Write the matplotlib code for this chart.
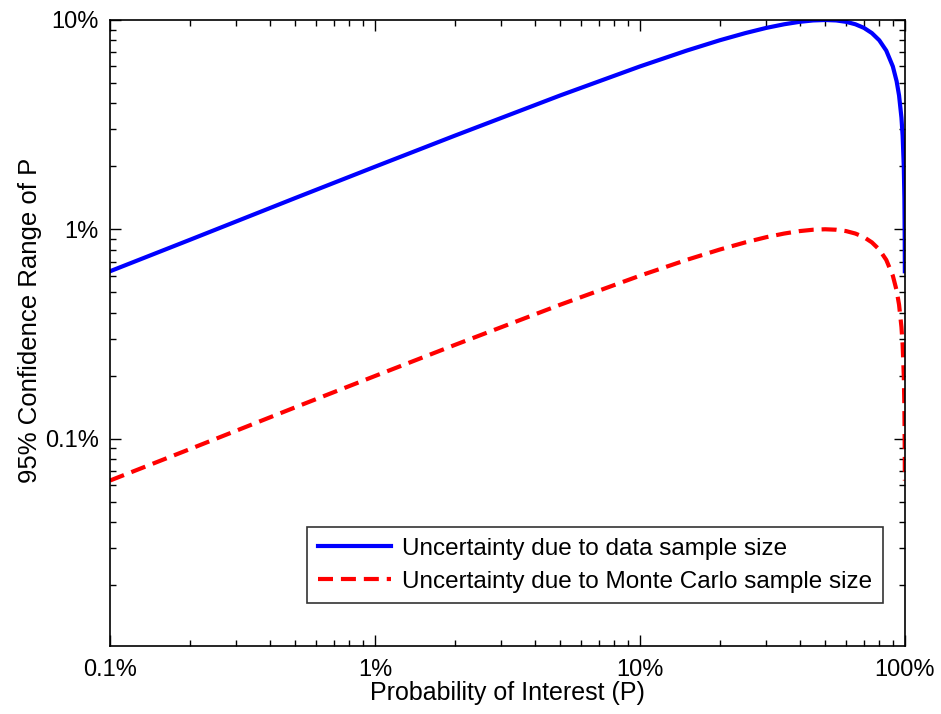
import matplotlib
matplotlib.use("Agg")
import matplotlib.pyplot as plt
from matplotlib.ticker import FixedLocator, FixedFormatter, LogLocator, NullFormatter

plt.rcParams['font.family'] = ['Liberation Sans', 'DejaVu Sans']

# probability of interest (fraction)
p = [0.001, 0.002, 0.005, 0.01, 0.02, 0.05, 0.1, 0.15, 0.2, 0.25, 0.3, 0.35,
     0.4, 0.45, 0.5, 0.55, 0.6, 0.65, 0.7, 0.75, 0.8, 0.85, 0.9, 0.93, 0.95,
     0.97, 0.98, 0.99, 0.995, 0.998, 0.999]

# 95% range from the data sample size
data_range = [0.0063, 0.0089, 0.0141, 0.0199, 0.0280, 0.0436, 0.0600, 0.0714,
              0.0800, 0.0866, 0.0917, 0.0954, 0.0980, 0.0995, 0.1000, 0.0995,
              0.0980, 0.0954, 0.0917, 0.0866, 0.0800, 0.0714, 0.0600, 0.0510,
              0.0436, 0.0341, 0.0280, 0.0199, 0.0141, 0.0089, 0.0063]

# 95% range from the Monte Carlo sample size
mc_range = [0.00063, 0.00089, 0.00141, 0.00199, 0.00280, 0.00436, 0.00600,
            0.00714, 0.00800, 0.00866, 0.00917, 0.00954, 0.00980, 0.00995,
            0.01000, 0.00995, 0.00980, 0.00954, 0.00917, 0.00866, 0.00800,
            0.00714, 0.00600, 0.00510, 0.00436, 0.00341, 0.00280, 0.00199,
            0.00141, 0.00089, 0.00063]

xticks = [0.001, 0.01, 0.1, 1.0]
xtick_labels = ['0.1%', '1%', '10%', '100%']
yticks = [0.001, 0.01, 0.1]
ytick_labels = ['0.1%', '1%', '10%']

fig = plt.figure(figsize=(9.41, 7.14), dpi=100)
ax = fig.add_axes([0.1169, 0.0952, 0.8448, 0.8768])

ax.plot(p, data_range, color='#0000ff', lw=3.0,
        label='Uncertainty due to data sample size')
ax.plot(p, mc_range, color='#ff0000', lw=3.0, ls=(0, (3.6, 1.9)),
        label='Uncertainty due to Monte Carlo sample size')

ax.set_xscale('log')
ax.set_yscale('log')
ax.set_xlim(0.001, 1.0)
ax.set_ylim(1.02e-4, 0.1)

ax.xaxis.set_major_locator(FixedLocator(xticks))
ax.xaxis.set_major_formatter(FixedFormatter(xtick_labels))
ax.yaxis.set_major_locator(FixedLocator(yticks))
ax.yaxis.set_major_formatter(FixedFormatter(ytick_labels))
for axis in (ax.xaxis, ax.yaxis):
    axis.set_minor_locator(LogLocator(base=10, subs=range(2, 10)))
    axis.set_minor_formatter(NullFormatter())

ax.tick_params(which='both', direction='in', top=True, right=True,
               width=1.0, labelsize=17)
ax.tick_params(axis='x', pad=9)
ax.tick_params(axis='y', pad=8)
ax.tick_params(which='major', length=8)
ax.tick_params(which='minor', length=4)
for s in ax.spines.values():
    s.set_linewidth(1.2)

ax.set_xlabel('Probability of Interest (P)', fontsize=18, labelpad=0)
ax.set_ylabel('95% Confidence Range of P', fontsize=18.5)
ax.yaxis.set_label_coords(-0.085, 0.52)

leg = ax.legend(loc='lower right', bbox_to_anchor=(0.9725, 0.068),
                fontsize=17.5, frameon=True, fancybox=False, handlelength=3.0,
                borderpad=0.45, labelspacing=0.45, handletextpad=0.45,
                borderaxespad=0)
leg.get_frame().set_edgecolor('black')
leg.get_frame().set_linewidth(1.2)

fig.savefig('out.png', dpi=100)
